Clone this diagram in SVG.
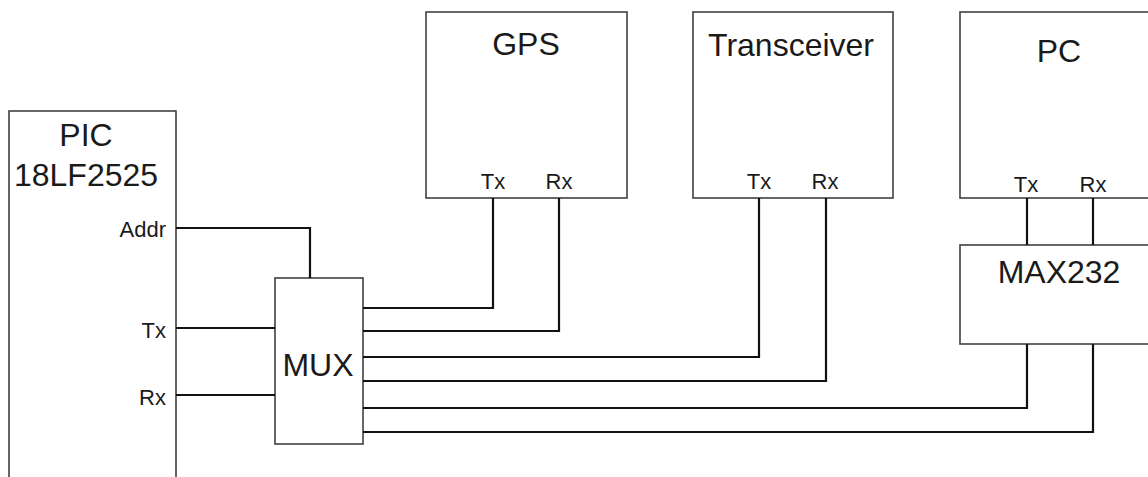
<svg xmlns="http://www.w3.org/2000/svg" width="1148" height="477" viewBox="0 0 1148 477">
<style>
.box{fill:#fff;stroke:#404040;stroke-width:1.6}
.big{font-family:"Liberation Sans",Arial,sans-serif;font-size:32px;fill:#1a1a1a;text-anchor:middle}
.sm{font-family:"Liberation Sans",Arial,sans-serif;font-size:22px;fill:#1a1a1a}
.mid{text-anchor:middle}
.end{text-anchor:end}
.wire{fill:none;stroke:#111;stroke-width:2.2}
</style>
<rect width="1148" height="477" fill="#fff"/>
<g id="pic">
<rect class="box" x="9" y="111" width="167" height="380"/>
<text class="big" x="86" y="146">PIC</text>
<text class="big" x="86" y="186">18LF2525</text>
<text class="sm end" x="166" y="237">Addr</text>
<text class="sm end" x="166" y="338">Tx</text>
<text class="sm end" x="166" y="405">Rx</text>
</g>
<g id="mux">
<rect class="box" x="275" y="278" width="88" height="166"/>
<text class="big" x="318" y="376">MUX</text>
</g>
<g id="gps">
<rect class="box" x="426" y="12" width="201" height="186"/>
<text class="big" x="526" y="55">GPS</text>
<text class="sm mid" x="493" y="189">Tx</text>
<text class="sm mid" x="559" y="189">Rx</text>
</g>
<g id="transceiver">
<rect class="box" x="693" y="12" width="200" height="186"/>
<text class="big" x="791" y="56">Transceiver</text>
<text class="sm mid" x="759" y="189">Tx</text>
<text class="sm mid" x="825" y="189">Rx</text>
</g>
<g id="pc">
<rect class="box" x="960" y="12" width="200" height="186"/>
<text class="big" x="1059" y="62">PC</text>
<text class="sm mid" x="1026" y="192">Tx</text>
<text class="sm mid" x="1093" y="192">Rx</text>
</g>
<g id="max232">
<rect class="box" x="960" y="245" width="200" height="99"/>
<text class="big" x="1059" y="283">MAX232</text>
</g>
<g id="connectors">
<polyline class="wire" points="176,228 310,228 310,278"/>
<line class="wire" x1="176" y1="328" x2="275" y2="328"/>
<line class="wire" x1="176" y1="395" x2="275" y2="395"/>
<polyline class="wire" points="363,308 493,308 493,198"/>
<polyline class="wire" points="363,331 559,331 559,198"/>
<polyline class="wire" points="363,357 759,357 759,198"/>
<polyline class="wire" points="363,381 826,381 826,198"/>
<polyline class="wire" points="363,408 1027,408 1027,344"/>
<polyline class="wire" points="363,432 1093,432 1093,344"/>
<line class="wire" x1="1027" y1="198" x2="1027" y2="245"/>
<line class="wire" x1="1093" y1="198" x2="1093" y2="245"/>
</g>
</svg>
